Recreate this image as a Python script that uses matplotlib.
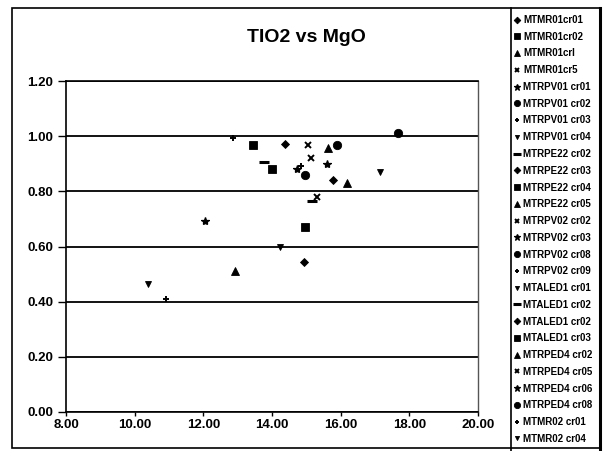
import matplotlib
matplotlib.use("Agg")
import matplotlib.pyplot as plt
from matplotlib.patches import Rectangle
from matplotlib.lines import Line2D

plt.rcParams['font.family'] = ['Liberation Sans', 'DejaVu Sans']

# Sample names, one point per sample (MgO, TiO2)
labels = [
    "MTMR01cr01", "MTMR01cr02", "MTMR01crl", "MTMR01cr5",
    "MTRPV01 cr01", "MTRPV01 cr02", "MTRPV01 cr03", "MTRPV01 cr04",
    "MTRPE22 cr02", "MTRPE22 cr03", "MTRPE22 cr04", "MTRPE22 cr05",
    "MTRPV02 cr02", "MTRPV02 cr03", "MTRPV02 cr08", "MTRPV02 cr09",
    "MTALED1 cr01", "MTALED1 cr02", "MTALED1 cr02", "MTALED1 cr03",
    "MTRPED4 cr02", "MTRPED4 cr05", "MTRPED4 cr06", "MTRPED4 cr08",
    "MTMR02 cr01", "MTMR02 cr04",
]
mgo = [14.38, 13.44, 15.63, 15.04,
       14.73, 15.89, 14.84, 17.15,
       13.78, 15.79, 13.99, 16.18,
       15.15, 15.59, 14.95, 12.87,
       10.38, 15.17, 14.94, 14.97,
       12.93, 15.30, 12.04, 17.68,
       10.90, 14.24]
tio2 = [0.971, 0.969, 0.957, 0.969,
        0.882, 0.968, 0.891, 0.870,
        0.905, 0.840, 0.881, 0.829,
        0.920, 0.900, 0.861, 0.995,
        0.463, 0.765, 0.544, 0.670,
        0.511, 0.780, 0.694, 1.013,
        0.411, 0.598]

x_ticks = [8, 10, 12, 14, 16, 18, 20]
y_ticks = [0.0, 0.2, 0.4, 0.6, 0.8, 1.0, 1.2]

# Spreadsheet-style marker cycle: (marker, size, edge width)
cycle = [("D", 4.5, 0.6), ("s", 5.5, 0.6), ("^", 6, 0.6), ("x", 4.5, 1.4),
         ("*", 6, 0.9), ("o", 6, 0.6), ("+", 4.5, 1.4), ("v", 4, 0.6),
         ("_", 7, 2.2)]

fig = plt.figure(figsize=(6.05, 4.51), dpi=100)
W, H = 605, 451


def fx(px):
    return px / W


def fy(py):
    return 1 - py / H


ax = fig.add_axes([fx(66), fy(412), (478 - 66) / W, (412 - 81) / H])

handles = []
for i, (lab, x, y) in enumerate(zip(labels, mgo, tio2)):
    m, s, ew = cycle[i % len(cycle)]
    h, = ax.plot([x], [y], linestyle="none", marker=m, markersize=s,
                 markeredgewidth=ew, color="black", label=lab)
    handles.append(h)

ax.set_xlim(8, 20)
ax.set_ylim(0, 1.2)
ax.set_xticks(x_ticks)
ax.set_yticks(y_ticks)
ax.set_xticklabels([f"{v:.2f}" for v in x_ticks], fontsize=9.5, fontweight="bold")
ax.set_yticklabels([f"{v:.2f}" for v in y_ticks], fontsize=9.5, fontweight="bold")
ax.tick_params(axis="both", direction="out", width=1, color="black")
ax.tick_params(axis="x", length=3, pad=2)
ax.tick_params(axis="y", length=6, pad=3)
ax.grid(axis="y", color="black", linewidth=1.3)
ax.set_axisbelow(True)
for side in ("left", "bottom", "top"):
    ax.spines[side].set_color("black")
    ax.spines[side].set_linewidth(1.2)
ax.spines["right"].set_linestyle((0, (1, 1)))
ax.spines["right"].set_color("#555555")
ax.spines["right"].set_linewidth(1)

fig.text(fx(306), fy(38), "TIO2 vs MgO", ha="center", va="center",
         fontsize=14, fontweight="bold")

# Chart area border (legend sits inside it on the right)
fig.patches.append(Rectangle((fx(12), fy(448)), (600 - 12) / W, (448 - 8) / H,
                             transform=fig.transFigure, fill=False,
                             edgecolor="black", linewidth=1.2))
fig.add_artist(Line2D([fx(600), fx(600)], [fy(8), 0], transform=fig.transFigure,
                      color="black", linewidth=2.2))
# Legend box left edge
fig.add_artist(Line2D([fx(511), fx(511)], [fy(8), 0], transform=fig.transFigure,
                      color="black", linewidth=1.2))

leg = fig.legend(handles=handles, loc="upper left",
                 bbox_to_anchor=(fx(512), fy(13)),
                 prop={"size": 7, "weight": "bold"},
                 frameon=False,
                 handlelength=0.6, handletextpad=0.35, labelspacing=0.695,
                 borderpad=0.2, borderaxespad=0, markerscale=0.75)

fig.savefig("out.png", dpi=100)
